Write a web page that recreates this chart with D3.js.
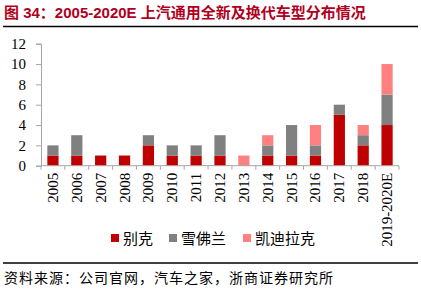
<!DOCTYPE html>
<html>
<head>
<meta charset="utf-8">
<script src="https://cdn.jsdelivr.net/npm/d3@7"></script>
<style>
  body { margin: 0; background: #fff; }
  svg { display: block; }
</style>
</head>
<body>
<div id="chart"></div>
<script>
// Data
const years = ["2005", "2006", "2007", "2008", "2009", "2010", "2011", "2012",
  "2013", "2014", "2015", "2016", "2017", "2018", "2019-2020E"];
const buick =     [1, 1, 1, 1, 2, 1, 1, 1, 0, 1, 1, 1, 5, 2, 4];
const chevrolet = [1, 2, 0, 0, 1, 1, 1, 2, 0, 1, 3, 1, 1, 1, 3];
const cadillac =  [0, 0, 0, 0, 0, 0, 0, 0, 1, 1, 0, 2, 0, 1, 3];
const seriesNames = ["别克", "雪佛兰", "凯迪拉克"];
const colors = ["#C00000", "#808080", "#FF8080"];
const yTicks = [0, 2, 4, 6, 8, 10, 12];

(function() {
const W = 421, H = 289;
const margin = { top: 43.7, left: 41, right: 22, bottom: 123.3 };
const width = W - margin.left - margin.right;
const height = H - margin.top - margin.bottom;

const svg = d3.select("#chart")
  .append("svg")
  .attr("width", W)
  .attr("height", H);

// Title and rules
svg.append("text")
  .attr("x", 4)
  .attr("y", 18)
  .attr("fill", "#B0001E")
  .style("font-family", "'Liberation Sans', 'Noto Sans CJK SC', sans-serif")
  .style("font-weight", "bold")
  .style("font-size", "15px")
  .text("图 34：2005-2020E 上汽通用全新及换代车型分布情况");

svg.append("line")
  .attr("x1", 3).attr("x2", 418)
  .attr("y1", 26.5).attr("y2", 26.5)
  .attr("stroke", "#000").attr("stroke-width", 1.3);

svg.append("line")
  .attr("x1", 3).attr("x2", 418)
  .attr("y1", 263).attr("y2", 263)
  .attr("stroke", "#000").attr("stroke-width", 1.3);

svg.append("text")
  .attr("x", 4)
  .attr("y", 283)
  .attr("fill", "#000")
  .style("font-family", "'Noto Sans CJK SC', sans-serif")
  .style("font-size", "14px")
  .style("letter-spacing", "1px")
  .text("资料来源：公司官网，汽车之家，浙商证券研究所");

const g = svg.append("g")
  .attr("transform", `translate(${margin.left},${margin.top})`);

// Stack data
const rows = years.map((y, i) => ({ year: y, b: buick[i], c: chevrolet[i], d: cadillac[i] }));
const stacked = d3.stack().keys(["b", "c", "d"])(rows);

// Scales
const x = d3.scaleBand()
  .domain(years)
  .range([0, width])
  .paddingInner(0.53)
  .paddingOuter(0.265);
const y = d3.scaleLinear()
  .domain([0, 12])
  .range([height, 0]);

// Bars
g.selectAll(".layer")
  .data(stacked)
  .enter()
  .append("g")
  .attr("fill", (d, i) => colors[i])
  .selectAll("rect")
  .data(d => d)
  .enter()
  .append("rect")
  .attr("x", d => x(d.data.year))
  .attr("y", d => y(d[1]))
  .attr("width", x.bandwidth())
  .attr("height", d => y(d[0]) - y(d[1]));

// Y axis
const yAxis = g.append("g")
  .call(d3.axisLeft(y).tickValues(yTicks).tickSize(5).tickPadding(10));
yAxis.select(".domain").attr("stroke", "#a6a6a6");
yAxis.selectAll(".tick line").attr("stroke", "#a6a6a6");
yAxis.selectAll(".tick text")
  .attr("fill", "#000")
  .style("font-family", "'Liberation Serif', 'Times New Roman', serif")
  .style("font-size", "15px");

// X axis: ticks at category boundaries
const xAxis = g.append("g")
  .attr("transform", `translate(0,${height})`);
xAxis.append("line")
  .attr("x1", 0).attr("x2", width)
  .attr("stroke", "#a6a6a6");
xAxis.selectAll(".bound")
  .data(d3.range(years.length + 1))
  .enter()
  .append("line")
  .attr("x1", i => i * width / years.length)
  .attr("x2", i => i * width / years.length)
  .attr("y1", 0).attr("y2", 4)
  .attr("stroke", "#a6a6a6");
xAxis.selectAll(".lbl")
  .data(years)
  .enter()
  .append("text")
  .attr("transform", d => `translate(${x(d) + x.bandwidth() / 2 + 5},7) rotate(-90)`)
  .attr("text-anchor", "end")
  .attr("fill", "#000")
  .style("font-family", "'Liberation Serif', 'Times New Roman', serif")
  .style("font-size", "15px")
  .text(d => d);

// Legend
const legendX = [111, 169, 243];
const legend = svg.append("g").attr("transform", "translate(0,240)");
seriesNames.forEach((name, i) => {
  legend.append("rect")
    .attr("x", legendX[i])
    .attr("y", -6)
    .attr("width", 8)
    .attr("height", 8)
    .attr("fill", colors[i]);
  legend.append("text")
    .attr("x", legendX[i] + 12)
    .attr("y", 4)
    .attr("fill", "#000")
    .style("font-family", "'Noto Sans CJK SC', sans-serif")
    .style("font-size", "15px")
    .text(name);
});
})();
</script>
</body>
</html>
